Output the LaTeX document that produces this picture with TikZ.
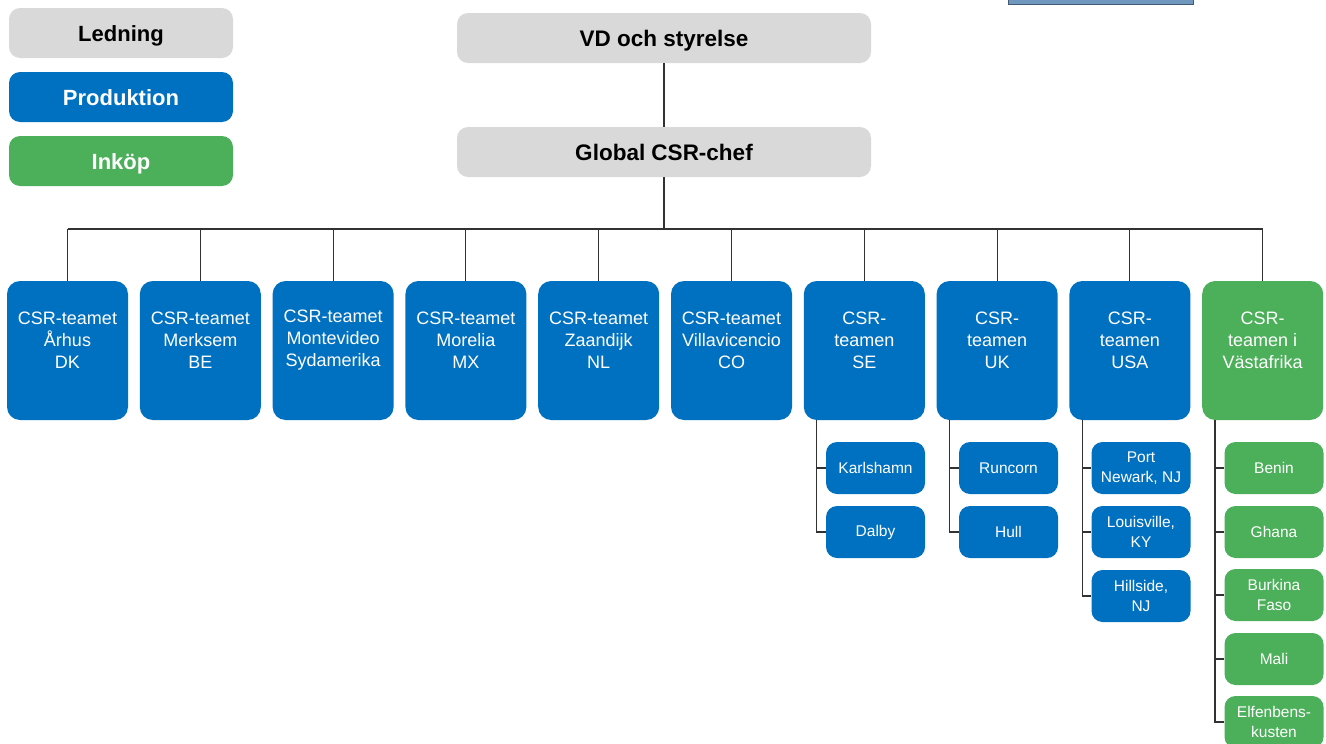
\documentclass[tikz,border=0pt]{standalone}
\usepackage{fontspec}
\setmainfont{Liberation Sans}
\usetikzlibrary{calc,positioning}
\definecolor{led}{RGB}{217,217,217}
\definecolor{prod}{RGB}{0,112,192}
\definecolor{inkop}{RGB}{76,175,90}
\definecolor{wire}{RGB}{50,50,50}
\definecolor{bar}{RGB}{112,152,190}

\begin{document}
\begin{tikzpicture}[x=1pt, y=-1pt,
  box/.style={rounded corners=11pt, fill=#1, draw=none, inner sep=0pt, text=white},
  leg/.style={box=#1, minimum width=224pt, minimum height=50pt,
    text height=20pt, text depth=4pt, font=\bfseries\fontsize{22}{26}\selectfont},
  head/.style={box=led, text=black, minimum width=414pt, minimum height=50pt,
    text height=20pt, text depth=4pt, font=\bfseries\fontsize{22.5}{26}\selectfont},
  team/.style={box=#1, minimum width=121pt, minimum height=139pt, rounded corners=13pt},
  ttxt/.style={align=center, text=white, inner sep=0pt, yshift=10.5pt,
    font=\fontsize{18}{22}\selectfont},
  site/.style={box=#1, minimum width=99pt, minimum height=52pt, align=center,
    font=\fontsize{15.5}{19.5}\selectfont},
  wire/.style={draw=wire, line width=1.1pt}]

\clip (0,0) rectangle (1326,744);

% bar at the top edge
\filldraw[fill=bar, draw=bar!60!black, line width=0.8pt] (1008,-3) rectangle (1193,4);

% legend
\node[leg=led, text=black] (ledning) at (121,33)  {Ledning};
\node[leg=prod]            (produk)  at (121,97)  {Produktion};
\node[leg=inkop]           (inkop)   at (121,161) {Inköp};

% management
\node[head] (vd)   at (664,38)  {VD och styrelse};
\node[head] (glob) at (664,152) {Global CSR-chef};
\coordinate (bus) at (664,229);

% the ten teams
\foreach \n/\x/\c/\t in {
    aarhus/67.5/prod/{CSR-teamet\\Århus\\DK},
    merksem/200.3/prod/{CSR-teamet\\Merksem\\BE},
    montev/333.1/prod/{CSR-teamet\\Montevideo\\Sydamerika},
    morelia/465.9/prod/{CSR-teamet\\Morelia\\MX},
    zaandijk/598.7/prod/{CSR-teamet\\Zaandijk\\NL},
    villav/731.5/prod/{CSR-teamet\\Villavicencio\\CO},
    se/864.3/prod/{CSR-\\teamen\\SE},
    uk/997.1/prod/{CSR-\\teamen\\UK},
    usa/1129.9/prod/{CSR-\\teamen\\USA},
    africa/1262.7/inkop/{CSR-\\teamen i\\Västafrika}}{
  \node[team=\c] (\n) at (\x,350.5) {};
  \node[ttxt] (\n-t) at (\n.center) {\t};
  \draw[wire] (\n.north) -- (\n.north |- bus);
}

% sites
\node[site=prod]  (karl)  at (875.5,468) {Karlshamn};
\node[site=prod]  (dalby) at (875.5,532) {Dalby};
\node[site=prod]  (runc)  at (1008.5,468) {Runcorn};
\node[site=prod]  (hull)  at (1008.5,532) {Hull};
\node[site=prod]  (portn) at (1141,468) {Port\\Newark, NJ};
\node[site=prod]  (louis) at (1141,532) {Louisville,\\KY};
\node[site=prod]  (hills) at (1141,596) {Hillside,\\NJ};
\node[site=inkop] (benin) at (1274,468) {Benin};
\node[site=inkop] (ghana) at (1274,532) {Ghana};
\node[site=inkop] (burk)  at (1274,595) {Burkina\\Faso};
\node[site=inkop] (mali)  at (1274,659) {Mali};
\node[site=inkop] (elfen) at (1274,722) {Elfenbens-\\kusten};

% lines
\draw[wire] (vd) -- (glob);
\draw[wire] (glob) -- (bus);
\draw[wire] (aarhus.north |- bus) -- (africa.north |- bus);
\foreach \t/\s in {se/karl, se/dalby, uk/runc, uk/hull, usa/portn, usa/louis, usa/hills,
    africa/benin, africa/ghana, africa/burk, africa/mali, africa/elfen}
  \draw[wire] ($(\t.south west)+(13,0)$) |- (\s.west);

\end{tikzpicture}
\end{document}
